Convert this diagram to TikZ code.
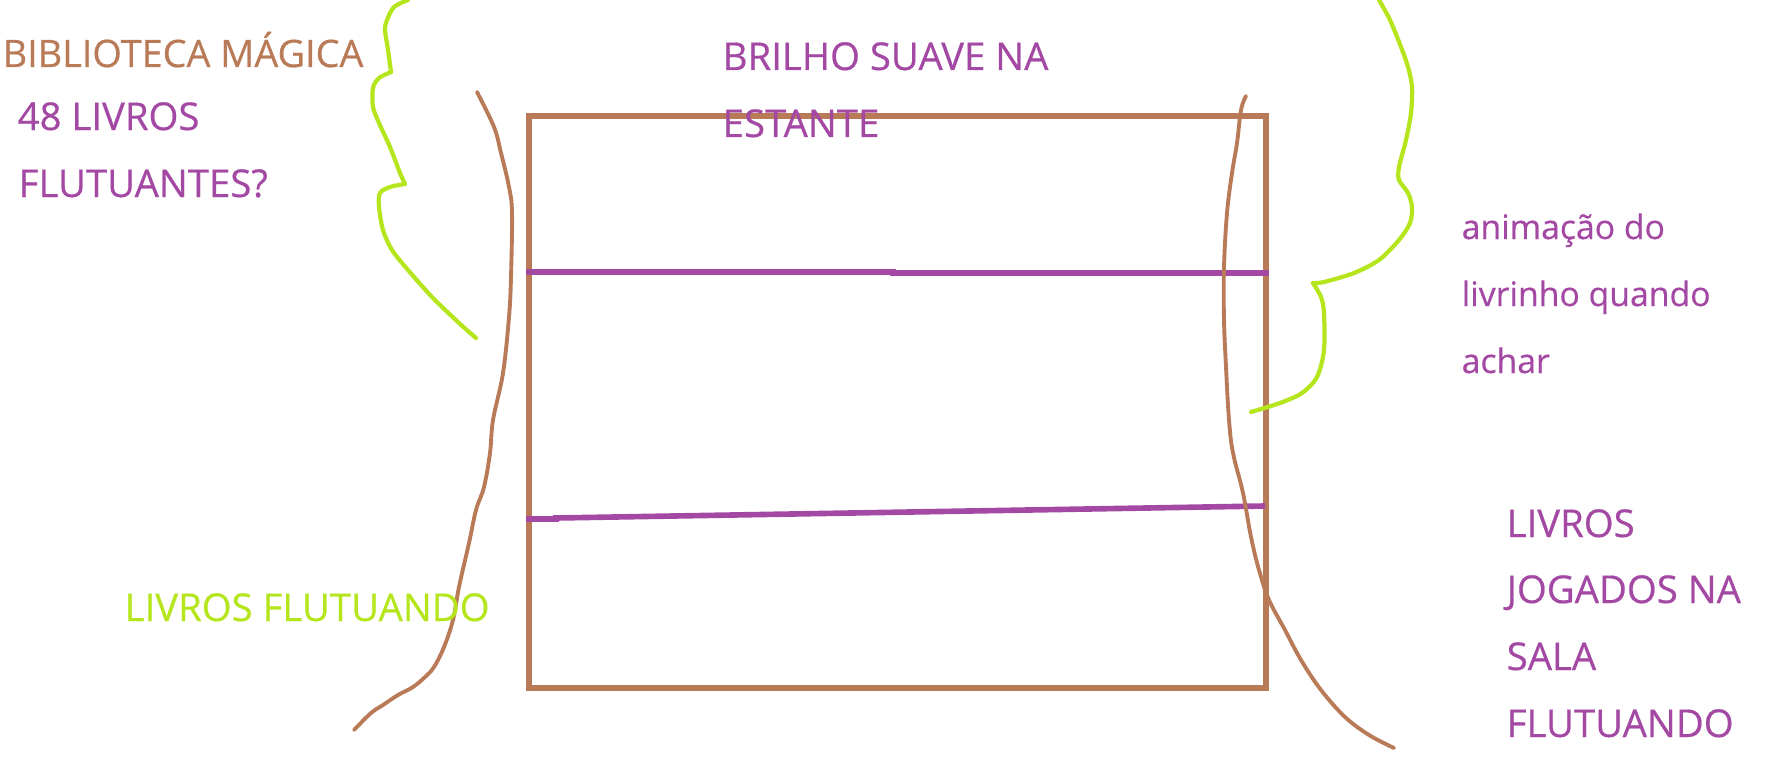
\documentclass[tikz,border=0pt]{standalone}
\usepackage{fontspec}
\setmainfont{Open Sans}
\newfontfamily\labelfont{Open Sans}[FakeBold=0.5]
\definecolor{pbrown}{HTML}{B97A57}
\definecolor{ppurple}{HTML}{A349A4}
\definecolor{pgreen}{HTML}{B5E61D}
\begin{document}
\begin{tikzpicture}[x=0.01cm,y=-0.01cm,
  lbl/.style={inner sep=0pt,anchor=base west,font=\labelfont\fontsize{10.9}{12}\selectfont},
  titlelbl/.style={inner sep=0pt,anchor=base west,font=\labelfont\fontsize{10.75}{12}\selectfont},
  lowlbl/.style={inner sep=0pt,anchor=base west,font=\labelfont\fontsize{9.6}{12}\selectfont},
  stroke/.style={line width=1.1pt,line cap=round,line join=round},
  gstroke/.style={line width=1.2pt,line cap=round,line join=round}]
\useasboundingbox (0,0) rectangle (1773,776);
% shelf
\node[draw=pbrown,line width=1.6pt,minimum width=7.37cm,minimum height=5.72cm,inner sep=0pt,anchor=north west] (shelf) at (526,113) {};
\draw[ppurple,line width=1.6pt] (shelf.west |- 0,272) -- (893,272) -- (893,273) -- (shelf.east |- 0,273);
\draw[ppurple,line width=1.6pt] (shelf.west |- 0,519) -- (556,519) -- (556,518) -- (1265,506);
% brown wavy lines
\draw[stroke,pbrown] plot[smooth,tension=0.6] coordinates {(477,92) (494,127) (501,153) (509,187) (512,213) (511,277) (509,317) (503,373) (493,420) (490,453) (484,487) (476,510) (469,543) (459,587) (453,620) (444,647) (434,667) (425,677) (413,687) (398,695) (383,705) (371,713) (354,730)};
\draw[stroke,pbrown] plot[smooth,tension=0.6] coordinates {(1246,96) (1241,110) (1237,143) (1232,173) (1227,213) (1224,267) (1224,320) (1226,367) (1229,420) (1233,453) (1243,493) (1251,537) (1259,570) (1269,600) (1285,630) (1301,660) (1321,690) (1345,717) (1369,735) (1394,748)};
% green wavy lines
\draw[gstroke,pgreen] plot[smooth,tension=0.5] coordinates {(408,0) (394,7) (387,20) (385,30) (388,50) (391,72)};
\draw[gstroke,pgreen] plot[smooth,tension=0.5] coordinates {(391,72) (379,78) (373,88) (373,107) (379,123) (390,147) (400,173) (405,184)};
\draw[gstroke,pgreen] plot[smooth,tension=0.5] coordinates {(405,184) (390,187) (380,193) (379,207) (383,230) (392,250) (408,270) (432,297) (459,323) (476,338)};
\draw[gstroke,pgreen] plot[smooth,tension=0.5] coordinates {(1379,0) (1390,20) (1401,47) (1408,67) (1412,87) (1411,113) (1406,140) (1399,167) (1399,180) (1408,193) (1412,207) (1410,223) (1399,240) (1379,260) (1354,273) (1324,282) (1313,283)};
\draw[gstroke,pgreen] plot[smooth,tension=0.5] coordinates {(1313,283) (1321,297) (1324,313) (1324,350) (1317,377) (1302,393) (1280,403) (1251,412)};
% texts
\node[titlelbl,text=pbrown] (t1) at (2,67) {BIBLIOTECA MÁGICA};
\node[lbl,text=ppurple] (t2) at (17,130) {48 LIVROS};
\node[lbl,text=ppurple] (t3) at (18,197) {FLUTUANTES?};
\node[lbl,text=ppurple] (t4) at (722,70) {BRILHO SUAVE NA};
\node[lbl,text=ppurple] (t5) at (722,137) {ESTANTE};
\node[lowlbl,text=ppurple] (t6) at (1461,239) {animação do};
\node[lowlbl,text=ppurple] (t7) at (1461,306) {livrinho quando};
\node[lowlbl,text=ppurple] (t8) at (1461,373) {achar};
\node[lbl,text=pgreen] (t9) at (124,621) {LIVROS FLUTUANDO};
\node[lbl,text=ppurple] (t10) at (1506,537) {LIVROS};
\node[lbl,text=ppurple] (t11) at (1506,603) {JOGADOS NA};
\node[lbl,text=ppurple] (t12) at (1506,670) {SALA};
\node[lbl,text=ppurple] (t13) at (1506,737) {FLUTUANDO};
\end{tikzpicture}
\end{document}
